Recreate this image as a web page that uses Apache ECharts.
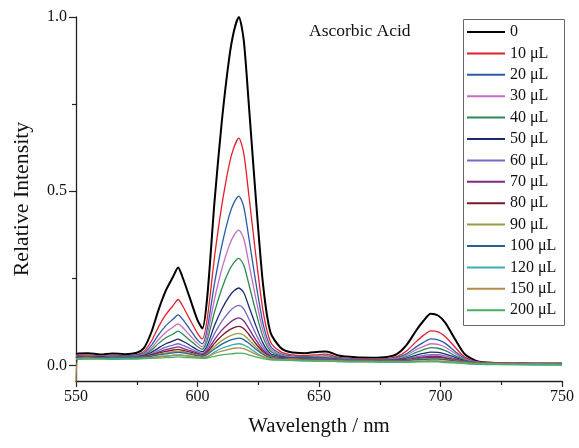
<!DOCTYPE html>
<html>
<head>
<meta charset="utf-8">
<script src="https://cdn.jsdelivr.net/npm/echarts@6/dist/echarts.min.js"></script>
<style>html,body{margin:0;padding:0;background:#fff;}#chart{width:579px;height:448px;}</style>
</head>
<body>
<div id="chart"></div>
<script>
const wavelengths = [550,551,555,560,565,570,575,578,581,584,587,590,592,594,597,600,602,604,607,610,613,615,617,619,621,624,627,630,634,638,644,650,653,658,665,672,678,682,686,690,693,696,699,702,706,710,715,722,730,740,750];

const seriesNames = ['0','10 μL','20 μL','30 μL','40 μL','50 μL','60 μL','70 μL','80 μL','90 μL','100 μL','120 μL','150 μL','200 μL'];

const s0 = [.032,.034,.035,.031,.034,.032,.036,.050,.095,.160,.215,.255,.281,.250,.190,.130,.106,.195,.470,.700,.880,.960,1.000,.935,.760,.480,.230,.095,.052,.038,.035,.039,.040,.028,.023,.022,.024,.032,.058,.100,.128,.148,.143,.122,.075,.032,.012,.007,.006,.005,.005];
const s10 = [.028,.030,.030,.027,.030,.028,.031,.040,.069,.111,.146,.172,.189,.169,.130,.092,.076,.133,.311,.459,.575,.626,.652,.610,.497,.316,.155,.068,.040,.031,.028,.031,.032,.023,.019,.019,.020,.025,.041,.068,.086,.099,.096,.082,.052,.023,.010,.007,.006,.005,.005];
const s20 = [.027,.025,.028,.026,.028,.027,.029,.035,.057,.088,.114,.133,.145,.131,.102,.073,.062,.104,.235,.344,.429,.467,.486,.456,.372,.238,.119,.055,.034,.027,.025,.026,.027,.021,.018,.017,.018,.022,.033,.053,.066,.076,.073,.063,.040,.019,.009,.006,.006,.005,.004];
const s30 = [.026,.027,.027,.025,.027,.024,.027,.033,.049,.074,.095,.110,.119,.108,.085,.063,.053,.086,.190,.276,.343,.373,.388,.364,.298,.192,.098,.047,.031,.025,.023,.024,.024,.019,.017,.016,.017,.020,.029,.045,.054,.062,.060,.052,.034,.017,.009,.006,.006,.005,.004];
const s40 = [.025,.023,.026,.025,.026,.025,.026,.030,.043,.063,.079,.090,.098,.089,.071,.054,.046,.072,.153,.220,.272,.295,.307,.288,.237,.154,.081,.041,.028,.023,.022,.022,.022,.018,.016,.016,.016,.018,.025,.037,.045,.051,.049,.042,.028,.015,.008,.006,.005,.005,.004];
const s50 = [.024,.026,.025,.024,.025,.024,.025,.028,.037,.050,.062,.070,.075,.069,.057,.044,.039,.057,.114,.161,.197,.214,.222,.209,.172,.114,.063,.034,.025,.021,.020,.020,.020,.017,.015,.015,.014,.016,.021,.029,.034,.038,.037,.032,.023,.013,.008,.006,.005,.005,.004];
const s60 = [.024,.022,.024,.023,.024,.024,.024,.026,.033,.043,.052,.058,.062,.057,.048,.039,.034,.048,.091,.126,.153,.166,.172,.162,.135,.090,.052,.030,.023,.020,.019,.019,.019,.016,.015,.014,.014,.015,.018,.025,.028,.031,.031,.027,.019,.012,.008,.006,.005,.005,.004];
const s70 = [.023,.024,.023,.022,.023,.023,.023,.025,.031,.038,.045,.050,.053,.049,.042,.035,.031,.042,.074,.101,.121,.131,.136,.128,.107,.073,.044,.027,.022,.020,.018,.018,.018,.016,.014,.014,.013,.014,.016,.021,.024,.026,.026,.022,.017,.011,.007,.006,.005,.005,.004];
const s80 = [.023,.021,.023,.024,.022,.023,.023,.025,.029,.035,.040,.044,.046,.043,.038,.032,.029,.037,.063,.085,.101,.108,.112,.106,.090,.062,.039,.025,.021,.019,.018,.017,.017,.015,.014,.014,.013,.014,.016,.019,.021,.023,.023,.020,.015,.010,.007,.006,.005,.005,.004];
const s90 = [.023,.022,.023,.022,.023,.023,.023,.024,.027,.032,.036,.039,.041,.039,.034,.030,.027,.034,.054,.071,.083,.089,.092,.087,.074,.053,.034,.024,.020,.019,.017,.017,.017,.015,.014,.014,.013,.013,.014,.018,.019,.020,.020,.017,.014,.010,.007,.006,.005,.005,.004];
const s100 = [.022,.023,.023,.021,.023,.022,.023,.024,.026,.030,.033,.036,.037,.036,.032,.028,.026,.031,.047,.061,.071,.075,.078,.074,.064,.046,.031,.022,.020,.018,.017,.016,.016,.015,.014,.014,.013,.013,.014,.016,.017,.018,.018,.016,.013,.009,.007,.006,.005,.005,.004];
const s120 = [.018,.017,.019,.018,.017,.018,.018,.020,.022,.025,.027,.029,.030,.029,.026,.023,.021,.025,.038,.049,.056,.060,.062,.059,.051,.037,.025,.018,.016,.014,.013,.012,.012,.011,.010,.010,.009,.009,.009,.011,.012,.013,.012,.010,.008,.005,.003,.002,.002,.001,.001];
const s150 = [-.050,.020,.021,.019,.020,.020,.020,.021,.022,.025,.026,.028,.029,.028,.026,.024,.023,.025,.034,.041,.046,.049,.050,.048,.042,.032,.024,.019,.017,.016,.015,.014,.014,.013,.012,.012,.011,.011,.011,.012,.012,.013,.013,.011,.010,.008,.006,.005,.004,.004,.003];
const s200 = [.019,.019,.018,.019,.020,.019,.019,.019,.020,.021,.022,.023,.024,.023,.022,.021,.020,.021,.026,.030,.032,.034,.035,.034,.030,.024,.019,.016,.015,.014,.013,.012,.012,.011,.010,.010,.009,.009,.009,.010,.010,.010,.010,.008,.007,.006,.004,.003,.002,.002,.001];

const allValues = [s0,s10,s20,s30,s40,s50,s60,s70,s80,s90,s100,s120,s150,s200];
const colors = ['#000000','#e3202a','#2b5ca8','#c56cc4','#2a8a52','#1c2a70','#7868c8','#7e2a86','#7a1a24','#9c9a42','#2a6090','#38aeb6','#b08a48','#4ab062'];

const xTicks = [550,600,650,700,750];
const yLabelTicks = [0, 0.5, 1.0];
const yMinorTicks = [0.25, 0.75];

const FONT = "'Liberation Serif','Times New Roman',serif";

const chart = echarts.init(document.getElementById('chart'), null, {renderer:'canvas'});

const series = seriesNames.map((name, i) => ({
  name: name,
  type: 'line',
  xAxisIndex: 0,
  yAxisIndex: 0,
  showSymbol: false,
  symbol: 'none',
  smooth: 0.25,
  clip: true,
  data: wavelengths.map((w, j) => [w, allValues[i][j]]),
  lineStyle: {color: colors[i], width: i === 0 ? 2 : 1.3},
  itemStyle: {color: colors[i]},
  emphasis: {disabled: true}
}));

chart.setOption({
  animation: false,
  backgroundColor: '#fff',
  grid: {left: 76, right: 17, top: 17, bottom: 67, containLabel: false, outerBoundsMode: 'none'},
  xAxis: [{
    type: 'value',
    min: xTicks[0], max: xTicks[xTicks.length-1], interval: 50,
    name: 'Wavelength / nm',
    nameLocation: 'middle', nameGap: 35,
    nameTextStyle: {fontFamily: FONT, fontSize: 20.8, color: '#111'},
    axisLine: {show: true, onZero: false, lineStyle: {color: '#222', width: 1.3}},
    axisTick: {show: true, inside: false, length: 6, lineStyle: {color: '#222', width: 1.2}},
    minorTick: {show: true, splitNumber: 2, length: 4, lineStyle: {color: '#222', width: 1.2}},
    axisLabel: {fontFamily: FONT, fontSize: 16, color: '#111', margin: 8},
    splitLine: {show: false}
  }],
  yAxis: [{
    type: 'value',
    position: 'left',
    min: -0.045, max: 1.0,
    name: 'Relative Intensity',
    nameLocation: 'middle', nameGap: 43,
    nameTextStyle: {fontFamily: FONT, fontSize: 21.8, color: '#111'},
    axisLine: {show: true, onZero: false, lineStyle: {color: '#222', width: 1.3}},
    axisTick: {show: true, inside: false, length: 7, customValues: yLabelTicks, lineStyle: {color: '#222', width: 1.2}},
    axisLabel: {fontFamily: FONT, fontSize: 16, color: '#111', margin: 9, customValues: yLabelTicks,
      formatter: v => v.toFixed(1)},
    splitLine: {show: false}
  },{
    type: 'value',
    position: 'left',
    offset: 0,
    min: -0.045, max: 1.0,
    axisLine: {show: false},
    axisTick: {show: true, inside: false, length: 4, customValues: yMinorTicks, lineStyle: {color: '#222', width: 1.2}},
    axisLabel: {show: false, customValues: yMinorTicks},
    splitLine: {show: false}
  }],
  legend: {
    show: true,
    orient: 'vertical',
    left: 467, top: 24,
    itemWidth: 38, itemHeight: 2,
    itemGap: 5.4,
    icon: 'rect',
    padding: 0,
    textStyle: {fontFamily: FONT, fontSize: 16, color: '#111', lineHeight: 16},
    data: seriesNames
  },
  graphic: [
    {type: 'rect', left: 461, top: 17, shape: {width: 101, height: 306},
     style: {fill: 'none', stroke: '#666', lineWidth: 1}, z: 100},
    {type: 'text', left: 309, top: 22,
     style: {text: 'Ascorbic Acid', font: "17.5px 'Liberation Serif','Times New Roman',serif", fill: '#111'}, z: 100}
  ],
  series: series
});
</script>
</body>
</html>
